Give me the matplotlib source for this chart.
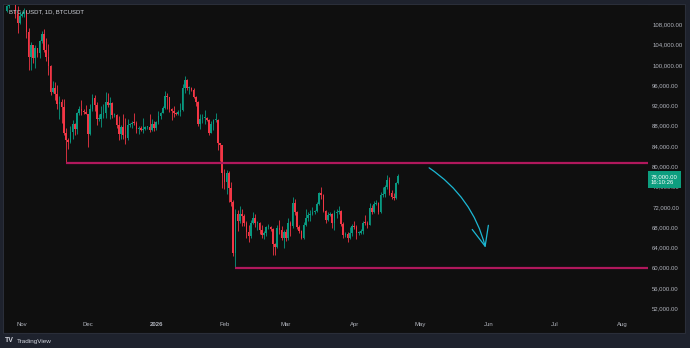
import numpy as np
import pandas as pd
import matplotlib
matplotlib.use('Agg')
import matplotlib.pyplot as plt
import matplotlib.dates as mdates
from matplotlib.patches import Rectangle

# daily BTC/USDT candles, Oct 25 2025 .. Apr 21 2026 (values in thousands)
start_date = '2025-10-25'
end_date = '2026-04-21'
first_open = 110.7

closes = [
    111.6, 114.5, 114.1, 112.9, 110.0, 108.3, 109.6,
    110.1, 110.5, 106.5, 101.5, 103.9, 101.3, 103.3, 102.3, 104.7, 106.0,
    103.0, 101.6, 99.7, 94.6, 95.5, 94.2, 92.2, 92.7, 91.6, 86.6,
    85.1, 84.7, 86.8, 88.3, 87.3, 90.5, 91.3, 90.9, 90.8, 90.4,
    86.3, 91.3, 93.4, 92.1, 89.3, 89.3, 90.4, 90.6, 92.7, 92.0,
    92.5, 90.2, 90.2, 88.1, 86.4, 87.8, 86.1, 85.5, 88.1, 88.3,
    88.6, 88.5, 87.4, 87.6, 87.2, 87.3, 87.8, 87.8, 87.1, 88.4, 87.5,
    88.7, 89.9, 90.6, 91.5, 93.9, 93.7, 91.3, 91.0, 90.5, 90.4,
    90.8, 91.1, 95.5, 97.0, 95.5, 95.5, 95.1, 93.6, 92.6, 88.3,
    89.4, 89.5, 89.5, 89.2, 86.6, 88.3, 89.2, 89.2, 84.5, 84.1, 78.6,
    76.9, 78.7, 75.8, 73.0, 62.9, 70.5, 69.3, 70.6, 70.1, 68.8,
    67.0, 66.2, 68.8, 69.8, 68.8, 68.8, 67.5, 66.4, 66.9, 68.0,
    68.0, 67.6, 64.6, 64.1, 67.9, 67.5, 65.9, 67.0,
    65.9, 68.8, 68.3, 72.7, 71.0, 68.0, 67.2, 65.9, 68.4, 69.9,
    70.4, 70.5, 70.9, 71.2, 72.6, 74.8, 74.3, 71.1, 69.5, 70.4,
    70.6, 68.9, 70.8, 70.9, 71.2, 68.6, 66.4, 66.7, 65.9, 66.8, 68.2,
    68.1, 66.8, 66.9, 67.3, 68.9, 68.8, 68.5, 71.8, 71.0, 72.5,
    72.8, 70.9, 74.3, 74.6, 76.0, 77.2, 74.8, 73.9, 73.7, 76.8, 78.0,
]

highs = [
    111.9, 115.0, 116.0, 116.1, 113.6, 111.6, 110.6,
    110.6, 111.2, 110.8, 107.3, 104.5, 104.0, 104.0, 103.4, 105.0, 106.7,
    107.0, 105.3, 104.1, 99.9, 96.8, 96.6, 96.0, 93.8, 93.2, 93.2,
    87.5, 85.6, 88.0, 89.2, 88.5, 90.7, 91.9, 93.1, 91.2, 92.0,
    90.4, 92.3, 94.2, 94.1, 92.7, 90.3, 91.8, 92.3, 94.6, 94.5,
    93.6, 92.7, 90.6, 90.3, 90.0, 88.2, 90.4, 89.5, 89.4, 88.6,
    89.0, 90.6, 88.9, 88.0, 88.0, 89.5, 88.0, 88.0, 90.3, 89.3, 89.0,
    88.9, 90.9, 90.8, 91.8, 94.8, 94.4, 93.7, 91.4, 91.9, 90.8,
    91.1, 92.5, 96.2, 97.9, 97.2, 95.8, 95.6, 95.5, 93.8, 92.9,
    90.4, 90.3, 91.1, 89.8, 89.4, 88.9, 89.4, 90.6, 89.3, 84.6, 84.2,
    79.4, 79.2, 79.1, 76.9, 73.4, 71.6, 71.3, 72.2, 71.5, 70.5,
    69.2, 68.4, 69.4, 70.9, 70.6, 69.3, 69.0, 68.4, 67.3, 68.3,
    68.7, 68.2, 67.8, 64.9, 68.4, 69.5, 68.2, 67.4,
    67.6, 69.8, 69.3, 74.0, 73.5, 71.2, 68.4, 67.4, 69.0, 71.5,
    71.0, 71.4, 72.0, 71.3, 73.0, 75.0, 76.0, 74.5, 71.4, 71.0,
    70.9, 70.8, 71.4, 71.6, 72.1, 71.4, 69.0, 67.1, 67.0, 68.1, 68.6,
    69.2, 68.4, 67.3, 67.6, 69.3, 70.3, 69.3, 72.7, 72.3, 73.1,
    73.4, 73.0, 74.9, 76.0, 76.4, 78.3, 77.9, 75.4, 74.8, 77.0, 78.4,
]

lows = [
    110.5, 111.3, 113.8, 112.2, 109.2, 106.3, 108.0,
    109.4, 109.5, 105.3, 98.9, 98.9, 100.3, 99.3, 101.5, 101.4, 104.3,
    102.5, 100.8, 98.0, 94.0, 94.5, 93.0, 91.2, 89.3, 88.6, 86.1,
    80.6, 83.5, 84.6, 85.3, 86.1, 86.3, 90.1, 90.2, 90.3, 90.3,
    83.8, 86.2, 91.0, 90.9, 88.1, 88.9, 87.7, 89.6, 89.5, 91.6,
    89.3, 89.5, 89.8, 87.6, 85.1, 85.3, 85.3, 84.4, 85.1, 87.8,
    87.6, 88.1, 86.6, 86.4, 86.9, 86.6, 87.2, 87.3, 86.8, 86.9, 87.0,
    87.2, 88.4, 89.3, 90.5, 91.3, 91.3, 90.8, 89.2, 89.7, 90.1,
    90.2, 90.0, 91.0, 94.5, 95.0, 94.3, 94.9, 93.4, 91.9, 87.9,
    87.3, 88.5, 88.4, 88.9, 86.1, 86.5, 87.2, 88.8, 83.3, 81.1, 75.7,
    75.6, 74.6, 72.9, 72.2, 62.4, 60.0, 67.3, 68.9, 68.3, 68.2,
    65.8, 65.1, 65.8, 68.7, 68.1, 67.4, 66.6, 65.9, 65.7, 66.3,
    67.6, 67.2, 62.5, 62.6, 63.9, 66.7, 65.4, 63.8,
    65.2, 65.5, 66.2, 67.9, 70.4, 67.7, 66.9, 65.6, 65.7, 68.3,
    69.3, 69.2, 70.3, 70.5, 71.0, 72.3, 73.6, 70.9, 68.8, 69.2,
    70.2, 67.8, 67.5, 69.9, 70.6, 68.3, 65.9, 66.1, 65.0, 65.6, 66.2,
    67.6, 65.7, 66.5, 66.7, 66.6, 68.5, 67.8, 68.4, 70.5, 70.8,
    72.3, 70.6, 70.7, 74.0, 73.9, 75.6, 74.4, 73.6, 73.3, 73.5, 76.5,
]

# horizontal levels drawn on the chart
support_levels = [80.6, 60.0]
support_starts = ['2025-11-21', '2026-02-06']

# hand-drawn projection arrow (date, price in thousands)
arrow_from = ('2026-05-04', 80.0)
arrow_to = ('2026-05-31', 63.4)

price_ticks = list(range(52, 109, 4))
month_ticks = ['2025-11-01', '2025-12-01', '2026-01-01', '2026-02-01', '2026-03-01',
               '2026-04-01', '2026-05-01', '2026-06-01', '2026-07-01', '2026-08-01']
month_labels = ['Nov', 'Dec', '2026', 'Feb', 'Mar', 'Apr', 'May', 'Jun', 'Jul', 'Aug']

last_price_text = '78,000.00'
countdown_text = '16:10:26'
title_text = 'BTC / USDT, 1D, BTCUSDT'

UP = '#089981'
DOWN = '#f23645'
LEVEL = '#b0185c'
ARROW = '#1cb8d4'
TXT = '#b2b5be'

dates = pd.date_range(start_date, end_date, freq='D')
x = mdates.date2num(dates)
c = np.array(closes) * 1000
h = np.array(highs) * 1000
l = np.array(lows) * 1000
o = np.concatenate([[first_open * 1000], c[:-1]])

plt.rcParams['font.family'] = ['Liberation Sans', 'DejaVu Sans']

fig = plt.figure(figsize=(6.9, 3.48), dpi=100, facecolor='#1e222d')
W, H = 690, 348
# chart panel
fig.patches.append(Rectangle((3 / W, 1 - 333 / H), 682 / W, 329 / H, transform=fig.transFigure,
                             facecolor='#0f0f0f', edgecolor='#2a2e39', linewidth=0.8, zorder=-5))
ax = fig.add_axes([4 / W, 1 - 318 / H, 644 / W, 313 / H])
ax.set_facecolor('#0f0f0f')

up = c >= o
colors = np.where(up, UP, DOWN)
ax.vlines(x, l, h, colors=colors, linewidth=0.6, zorder=2)
body_bottom = np.minimum(o, c)
body_h = np.maximum(np.abs(c - o), 150)
ax.bar(x, body_h, bottom=body_bottom, width=0.75, color=colors, linewidth=0, zorder=3)

x0 = mdates.date2num(pd.Timestamp('2025-11-01')) - 18 / 2.2
x1 = mdates.date2num(pd.Timestamp('2025-11-01')) + 626 / 2.2
ax.set_xlim(x0, x1)
ax.set_ylim(108000 - (318 - 24.3) / 0.005071, 108000 + (24.3 - 5) / 0.005071)

for lvl, st in zip(support_levels, support_starts):
    ax.plot([mdates.date2num(pd.Timestamp(st)), x1], [lvl * 1000] * 2, color=LEVEL,
            linewidth=1.6, solid_capstyle='butt', zorder=4)

ax.annotate('', xy=(mdates.date2num(pd.Timestamp(arrow_to[0])), arrow_to[1] * 1000),
            xytext=(mdates.date2num(pd.Timestamp(arrow_from[0])), arrow_from[1] * 1000),
            arrowprops=dict(arrowstyle='->,head_length=1.4,head_width=0.6', color=ARROW,
                            linewidth=0.9, connectionstyle='arc3,rad=-0.2', mutation_scale=10))

for s in ax.spines.values():
    s.set_visible(False)
ax.yaxis.tick_right()
ax.set_yticks([p * 1000 for p in price_ticks])
ax.set_yticklabels(['{:,.2f}'.format(p * 1000) for p in price_ticks])
ax.set_xticks(mdates.date2num(pd.to_datetime(month_ticks)))
ax.set_xticklabels(month_labels)
ax.tick_params(axis='y', length=0, pad=3, labelsize=4.3, labelcolor=TXT)
ax.tick_params(axis='x', length=0, pad=3, labelsize=4.3, labelcolor=TXT)
for lab in ax.get_xticklabels():
    if lab.get_text() == '2026':
        lab.set_fontweight('bold')

ax.text(1.0 + 3 / 644, c[-1] + 500, last_price_text + '\n' + countdown_text,
        transform=ax.get_yaxis_transform(),
        ha='left', va='top', fontsize=4.3, color='white', linespacing=1.35,
        bbox=dict(boxstyle='square,pad=0.45', facecolor='#0d9e7f', edgecolor='none'),
        clip_on=False, zorder=10)

fig.text(9 / W, 1 - 12 / H, title_text, fontsize=4.3, color='#d1d4dc', va='center', ha='left')
fig.text(5 / W, 1 - 341 / H, 'TV', fontsize=5, color='#d1d4dc', fontweight='bold', va='center')
fig.text(17 / W, 1 - 341 / H, 'TradingView', fontsize=4.6, color='#d1d4dc', va='center')

fig.savefig('out.png', dpi=100, facecolor=fig.get_facecolor())
